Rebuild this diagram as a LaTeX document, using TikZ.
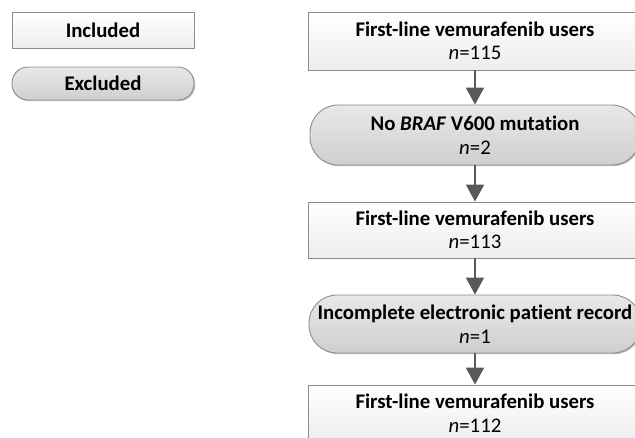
\documentclass[tikz,border=0pt]{standalone}
\usepackage{fontspec}
\setmainfont[Ligatures=NoCommon]{Carlito}
\usetikzlibrary{arrows.meta,shadows}
\definecolor{bordergray}{HTML}{8C8C8C}
\definecolor{arrowgray}{HTML}{595959}
\definecolor{exctop}{HTML}{E8E8E8}
\definecolor{excbot}{HTML}{CFCFCF}
\begin{document}
\begin{tikzpicture}[x=1pt,y=-1pt,
  base/.style={draw=bordergray, line width=0.9pt, align=center, inner sep=0pt,
    font=\fontsize{20.8}{23.5}\selectfont,
    drop shadow={shadow xshift=1.2pt, shadow yshift=-1.2pt, opacity=0.25, fill=black}},
  incl/.style={base, rectangle, top color=white, bottom color=white!93!black},
  excl/.style={base, rounded corners=28pt, top color=exctop, bottom color=excbot},
  flow/.style={draw=arrowgray, line width=2pt, -{Triangle[width=18pt,length=17pt]}}
]
\useasboundingbox (0,0) rectangle (635,437);
\fill[white] (0,0) rectangle (635,437);
% legend
\node[incl, minimum width=182pt, minimum height=36pt] (leginc) at (103,30) {\bfseries Included};
\node[excl, rounded corners=16pt, minimum width=182pt, minimum height=33pt] (legexc) at (103,83.5) {\bfseries Excluded};
% flow
\node[incl, minimum width=334pt, minimum height=58pt] (b1) at (475,41)
  {\bfseries First-line vemurafenib users\\ \textit{n}=115};
\node[excl, minimum width=330pt, minimum height=60pt] (b2) at (475,135)
  {\bfseries No \textit{BRAF} V600 mutation\\ \textit{n}=2};
\node[incl, minimum width=334pt, minimum height=56pt] (b3) at (475,230)
  {\bfseries First-line vemurafenib users\\ \textit{n}=113};
\node[excl, minimum width=332pt, minimum height=58pt] (b4) at (475,324)
  {\bfseries Incomplete electronic patient record\\ \textit{n}=1};
\node[incl, minimum width=334pt, minimum height=56pt] (b5) at (475,413)
  {\bfseries First-line vemurafenib users\\ \textit{n}=112};
\draw[flow] (b1) -- (b2);
\draw[flow] (b2) -- (b3);
\draw[flow] (b3) -- (b4);
\draw[flow] (b4) -- (b5);
\end{tikzpicture}
\end{document}
